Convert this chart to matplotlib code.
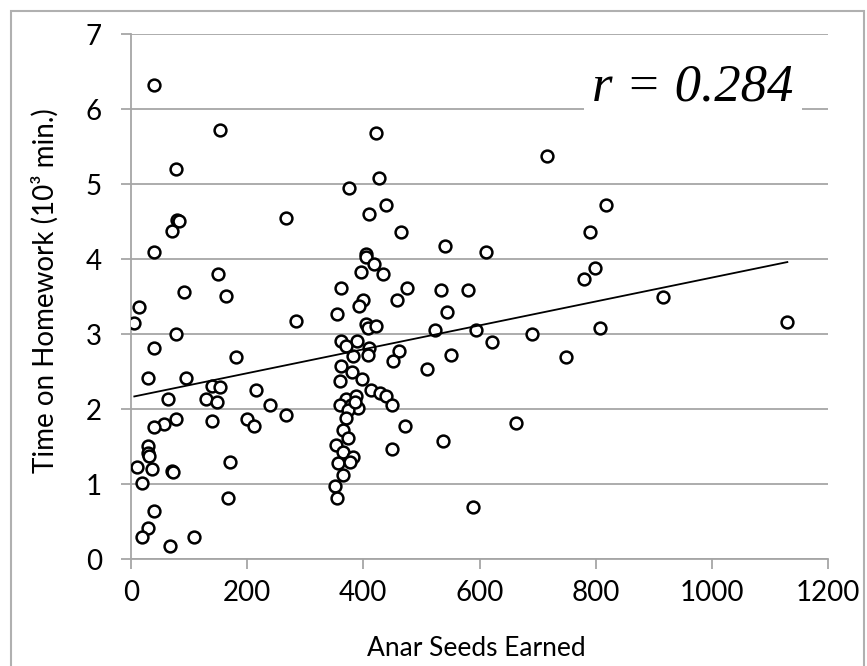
import matplotlib
matplotlib.use("Agg")
import matplotlib.pyplot as plt
from matplotlib.patches import Rectangle
import numpy as np

# ---- data ----
seeds = [40, 154, 77.5, 80, 83, 70.6, 267, 40, 150, 92, 163, 13.8, 5.7, 283.5, 77.5, 39.6,
         180, 29.8, 95, 140, 154, 214.6, 63.7, 128.6, 147.5, 240, 267, 77.5, 57, 39, 140,
         200, 212, 29.8, 29, 31, 9.8, 36, 70, 71.5, 171, 19, 167.5, 39.6, 29.8, 19, 108.5, 67.7,
         421, 427, 376, 438.5, 410, 465, 404, 404, 419, 396, 434, 362, 476, 400, 393, 458,
         355, 404, 408, 422, 362, 389, 371, 410, 462, 382, 408, 451, 362, 380, 359, 397,
         413, 429, 439, 449, 370, 388, 360, 378, 391, 374, 386, 370, 472, 365, 374, 353,
         365, 449, 383, 357, 377, 365, 351, 355,
         541, 612, 534, 581, 544, 523, 594, 622, 551, 509, 538, 589, 716, 818, 790, 798,
         780, 916, 1130, 808, 690, 749, 663]
homework = [6.32, 5.73, 5.21, 4.53, 4.51, 4.38, 4.55, 4.09, 3.80, 3.56, 3.51, 3.36, 3.15, 3.18, 3.00, 2.81,
            2.69, 2.42, 2.42, 2.31, 2.29, 2.26, 2.13, 2.13, 2.10, 2.05, 1.92, 1.87, 1.80, 1.76, 1.84,
            1.87, 1.78, 1.51, 1.41, 1.37, 1.23, 1.20, 1.17, 1.16, 1.30, 1.02, 0.82, 0.64, 0.41, 0.30, 0.30, 0.18,
            5.68, 5.08, 4.95, 4.73, 4.60, 4.36, 4.07, 4.03, 3.93, 3.83, 3.80, 3.61, 3.61, 3.46, 3.37, 3.46,
            3.27, 3.14, 3.08, 3.11, 2.91, 2.91, 2.84, 2.81, 2.78, 2.71, 2.72, 2.64, 2.58, 2.50, 2.37, 2.40,
            2.26, 2.22, 2.18, 2.05, 2.13, 2.17, 2.05, 2.05, 2.01, 1.99, 2.10, 1.88, 1.78, 1.72, 1.62, 1.52,
            1.43, 1.47, 1.36, 1.28, 1.30, 1.12, 0.97, 0.81,
            4.18, 4.09, 3.59, 3.59, 3.30, 3.06, 3.05, 2.90, 2.72, 2.53, 1.57, 0.70, 5.38, 4.73, 4.36, 3.88,
            3.74, 3.50, 3.16, 3.08, 3.00, 2.69, 1.81]
trend_intercept = 2.16
trend_slope = 0.001595
r_label = "r = 0.284"
x_ticks = [0, 200, 400, 600, 800, 1000, 1200]
y_ticks = [0, 1, 2, 3, 4, 5, 6, 7]
x_title = "Anar Seeds Earned"
y_title = "Time on Homework (10\u00b3 min.)"

# ---- figure ----
W, H = 867, 666
fig = plt.figure(figsize=(W / 100, H / 100), dpi=100)
ax = fig.add_axes([131 / W, 1 - 559 / H, (828 - 131) / W, (559 - 34.4) / H])

font = ['Lato', 'DejaVu Sans']
grid_c = '#a6a6a6'

ax.set_xlim(0, 1200)
ax.set_ylim(0, 7)
ax.set_xticks(x_ticks)
ax.set_yticks(y_ticks)
for s in ['top', 'right']:
    ax.spines[s].set_visible(False)
for s in ['left', 'bottom']:
    ax.spines[s].set_color(grid_c)
    ax.spines[s].set_linewidth(1.3)
ax.yaxis.grid(True, color=grid_c, linewidth=1.3, zorder=0)
ax.set_axisbelow(True)
ax.tick_params(axis='both', colors=grid_c, length=7, width=1.3, labelcolor='black', labelsize=20)
ax.tick_params(axis='x', pad=8)
ax.tick_params(axis='y', pad=14)
for lab in ax.get_xticklabels() + ax.get_yticklabels():
    lab.set_family(font)

ax.scatter(seeds, homework, s=8.5 ** 2, facecolors='white', edgecolors='black',
           linewidths=1.8, zorder=3)

xs = np.array([min(seeds), max(seeds)])
ax.plot(xs, trend_intercept + trend_slope * xs, color='black', linewidth=1.3, zorder=4)

ax.text(967, 6.12, r_label, family=['Liberation Serif', 'DejaVu Serif'], style='italic',
        fontsize=38, ha='center', va='baseline', zorder=5,
        bbox=dict(facecolor='white', edgecolor='none', pad=6))

fig.text(476 / W, 1 - 649 / H, x_title, family=font, fontsize=19, ha='center', va='center')
fig.text(45 / W, 1 - 291 / H, y_title, family=font, fontsize=20, ha='center', va='center',
         rotation=90)

# outer chart border
fig.patches.append(Rectangle((11 / W, -0.05), (864 - 11) / W, 1.05 - 11 / H,
                             transform=fig.transFigure, fill=False, edgecolor='#b0b0b0',
                             linewidth=1.5))

fig.savefig('out.png', dpi=100)
